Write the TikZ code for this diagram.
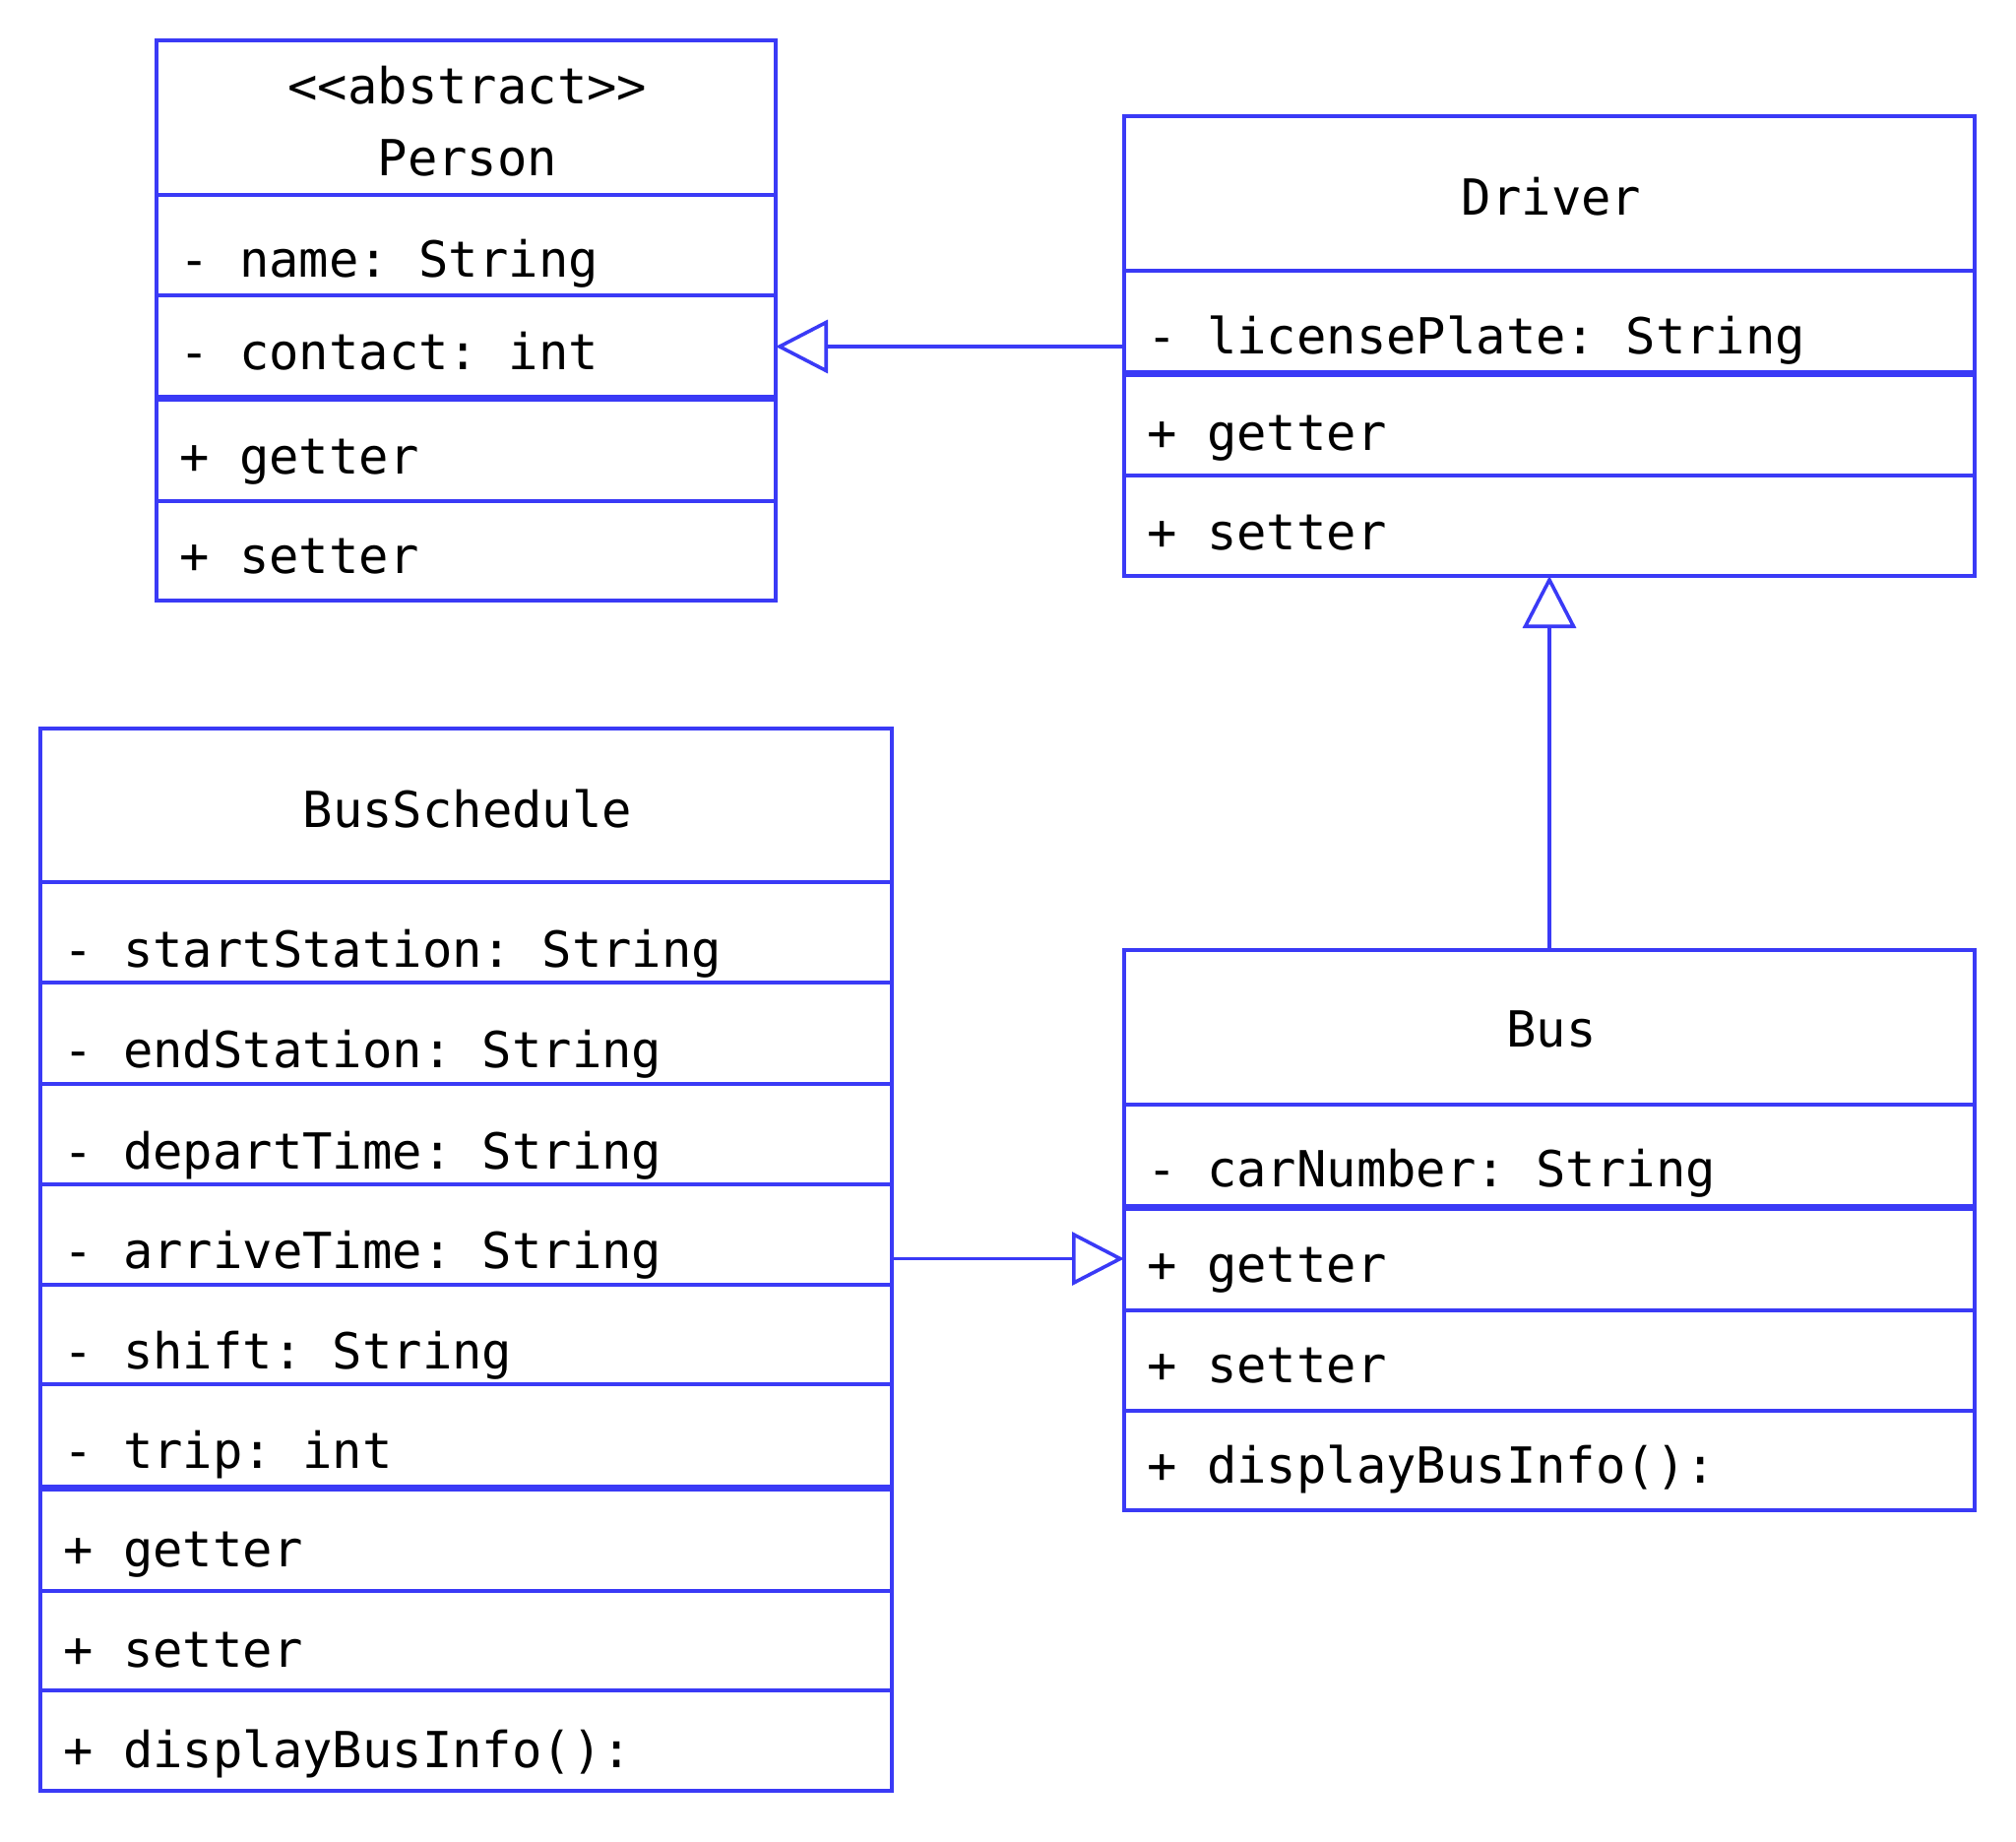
\documentclass[tikz,border=0pt]{standalone}
\usepackage{fontspec}
\setmonofont{DejaVu Sans Mono}
\usetikzlibrary{arrows.meta}
\definecolor{uml}{RGB}{58,58,246}
\newcommand\umlfont{\ttfamily\fontsize{50.5pt}{60pt}\selectfont}
\begin{document}
\begin{tikzpicture}[x=1pt,y=-1pt,
  comp/.style={draw=uml, line width=3.6pt, inner sep=0pt, outer sep=0pt, anchor=north west},
  txt/.style={font=\umlfont, inner sep=0pt, anchor=base west},
  ttl/.style={font=\umlfont, inner sep=0pt, anchor=base},
  sepline/.style={draw=uml, line width=7pt},
  inh/.style={draw=uml, line width=3.6pt, -{Triangle[length=53pt,width=54pt,fill=white]}}]
\useasboundingbox (0,0) rectangle (2048,1871);

% ---------- Person ----------
\node[comp, minimum width=629pt, minimum height=157pt] (ph) at (159,41) {};
\node[comp, minimum width=629pt, minimum height=102pt] (pn) at (159,198) {};
\node[comp, minimum width=629pt, minimum height=104pt] (pc) at (159,300) {};
\node[comp, minimum width=629pt, minimum height=105pt] (pg) at (159,404) {};
\node[comp, minimum width=629pt, minimum height=101pt] (ps) at (159,509) {};
\draw[sepline] (pg.north west) -- (pg.north east);
\node[ttl] (phA) at (475,105) {<<abstract>>};
\node[ttl] (phB) at (475,178.6) {Person};
\node[txt] (pnT) at (182,281) {- name: String};
\node[txt] (pcT) at (182,375) {- contact: int};
\node[txt] (pgT) at (182,481) {+ getter};
\node[txt] (psT) at (182,582.6) {+ setter};

% ---------- Driver ----------
\node[comp, minimum width=864pt, minimum height=157pt] (dh) at (1142,118) {};
\node[comp, minimum width=864pt, minimum height=104pt] (dl) at (1142,275) {};
\node[comp, minimum width=864pt, minimum height=104pt] (dg) at (1142,379) {};
\node[comp, minimum width=864pt, minimum height=102pt] (ds) at (1142,483) {};
\draw[sepline] (dg.north west) -- (dg.north east);
\node[ttl] (dhT) at (1576,218) {Driver};
\node[txt] (dlT) at (1165,359.4) {- licensePlate: String};
\node[txt] (dgT) at (1165,457.6) {+ getter};
\node[txt] (dsT) at (1165,558) {+ setter};

% ---------- Bus ----------
\node[comp, minimum width=864pt, minimum height=157pt] (bh) at (1142,965) {};
\node[comp, minimum width=864pt, minimum height=104pt] (bc) at (1142,1122) {};
\node[comp, minimum width=864pt, minimum height=105pt] (bg) at (1142,1226) {};
\node[comp, minimum width=864pt, minimum height=102pt] (bs) at (1142,1331) {};
\node[comp, minimum width=864pt, minimum height=101pt] (bd) at (1142,1433) {};
\draw[sepline] (bg.north west) -- (bg.north east);
\node[ttl] (bhT) at (1576,1063) {Bus};
\node[txt] (bcT) at (1165,1205) {- carNumber: String};
\node[txt] (bgT) at (1165,1302) {+ getter};
\node[txt] (bsT) at (1165,1404) {+ setter};
\node[txt] (bdT) at (1165,1506) {+ displayBusInfo():};

% ---------- BusSchedule ----------
\node[comp, minimum width=865pt, minimum height=156pt] (sh) at (41,740) {};
\node[comp, minimum width=865pt, minimum height=102pt] (s1) at (41,896) {};
\node[comp, minimum width=865pt, minimum height=103pt] (s2) at (41,998) {};
\node[comp, minimum width=865pt, minimum height=102pt] (s3) at (41,1101) {};
\node[comp, minimum width=865pt, minimum height=102pt] (s4) at (41,1203) {};
\node[comp, minimum width=865pt, minimum height=101pt] (s5) at (41,1305) {};
\node[comp, minimum width=865pt, minimum height=105pt] (s6) at (41,1406) {};
\node[comp, minimum width=865pt, minimum height=105pt] (s7) at (41,1511) {};
\node[comp, minimum width=865pt, minimum height=101pt] (s8) at (41,1616) {};
\node[comp, minimum width=865pt, minimum height=102pt] (s9) at (41,1717) {};
\draw[sepline] (s7.north west) -- (s7.north east);
\node[ttl] (shT) at (475,840) {BusSchedule};
\node[txt] (s1T) at (64,982) {- startStation: String};
\node[txt] (s2T) at (64,1084.6) {- endStation: String};
\node[txt] (s3T) at (64,1187) {- departTime: String};
\node[txt] (s4T) at (64,1288.5) {- arriveTime: String};
\node[txt] (s5T) at (64,1390.8) {- shift: String};
\node[txt] (s6T) at (64,1491.6) {- trip: int};
\node[txt] (s7T) at (64,1591) {+ getter};
\node[txt] (s8T) at (64,1693) {+ setter};
\node[txt] (s9T) at (64,1795) {+ displayBusInfo():};

% ---------- connectors ----------
\draw[inh] (dl.west |- pc.east) -- (pc.east);
\draw[inh] (bh.north) -- (ds.south);
\draw[inh] (s4.east |- bg.west) -- (bg.west);
\end{tikzpicture}
\end{document}
